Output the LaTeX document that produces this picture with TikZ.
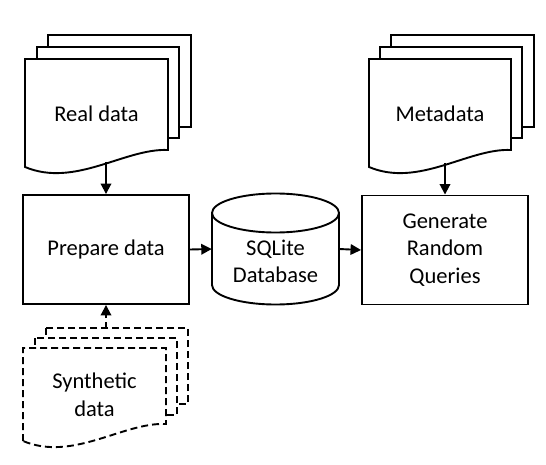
\documentclass[tikz,border=0pt]{standalone}
\usepackage{fontspec}
\setmainfont{Carlito}
\usetikzlibrary{arrows.meta}
\tikzset{
  ln/.style={line width=1.9pt, line join=miter},
  sheet/.style={ln, fill=white},
  dsheet/.style={ln, fill=white, dash pattern=on 7pt off 4pt},
  procbox/.style={ln, draw, rectangle, minimum width=166pt, minimum height=109pt, align=center, inner sep=0pt},
  lbl/.style={align=center, inner sep=0pt, font=\fontsize{22.5}{27.5}\selectfont},
  arr/.style={ln, -{Triangle[length=10.5pt,width=10.5pt]}},
  darr/.style={arr, dash pattern=on 6pt off 4pt},
}
% document sheet: {style}{L}{T}{R}{B(right bottom)}
\newcommand{\docsheet}[5]{%
  \draw[#1] (#2,#5+17) -- (#2,#3) -- (#4,#3) -- (#4,#5)
    .. controls ({#2+0.70*(#4-#2)},#5-2) and ({#2+0.35*(#4-#2)},#5+38) .. (#2,#5+17) -- cycle;}
\begin{document}
\begin{tikzpicture}[x=1pt,y=-1pt]
\useasboundingbox (0,0) rectangle (546,465);
% Real data
\draw[sheet] (48,35) rectangle (191,127);
\draw[sheet] (37,47) rectangle (179,138);
\docsheet{sheet}{25}{59}{168}{150}
\node[lbl] (real) at (96.5,114) {Real data};
\coordinate (realbot) at (106,162);
% Metadata
\draw[sheet] (391,35) rectangle (534,127);
\draw[sheet] (380,47) rectangle (522,138);
\docsheet{sheet}{369}{59}{511}{150}
\node[lbl] (meta) at (440,114) {Metadata};
\coordinate (metabot) at (445,163);
% Synthetic data
\draw[dsheet] (46,328) rectangle (188,404);
\draw[dsheet] (35,338) rectangle (177,415);
\docsheet{dsheet}{23}{348}{166}{424}
\node[lbl] (syn) at (94.5,395) {Synthetic\\data};
\coordinate (syntop) at (106,328);
% Prepare data
\node[procbox, lbl] (prep) at (106,249.5) {Prepare data};
% Generate
\node[procbox, lbl] (gen) at (445,250) {Generate\\Random\\Queries};
% Cylinder
\draw[ln, fill=white] (212,213) -- (212,285) arc[start angle=180, end angle=360, x radius=63.5, y radius=-19.5] -- (339,213)
  arc[start angle=0, end angle=180, x radius=63.5, y radius=-19.5] -- cycle;
\draw[ln] (212,213) arc[start angle=180, end angle=360, x radius=63.5, y radius=-19.5];
\node[minimum width=127pt, minimum height=111pt, inner sep=0pt] (db) at (275.5,249) {};
\node[lbl] (dbtxt) at (275.5,261.5) {SQLite\\Database};
% connectors
\draw[arr] (realbot) -- (prep.north);
\draw[arr] (metabot) -- (gen.north);
\draw[arr] (prep.east) -- (db.west);
\draw[arr] (db.east) -- (gen.west);
\draw[darr] (syntop) -- (prep.south);
\end{tikzpicture}
\end{document}
